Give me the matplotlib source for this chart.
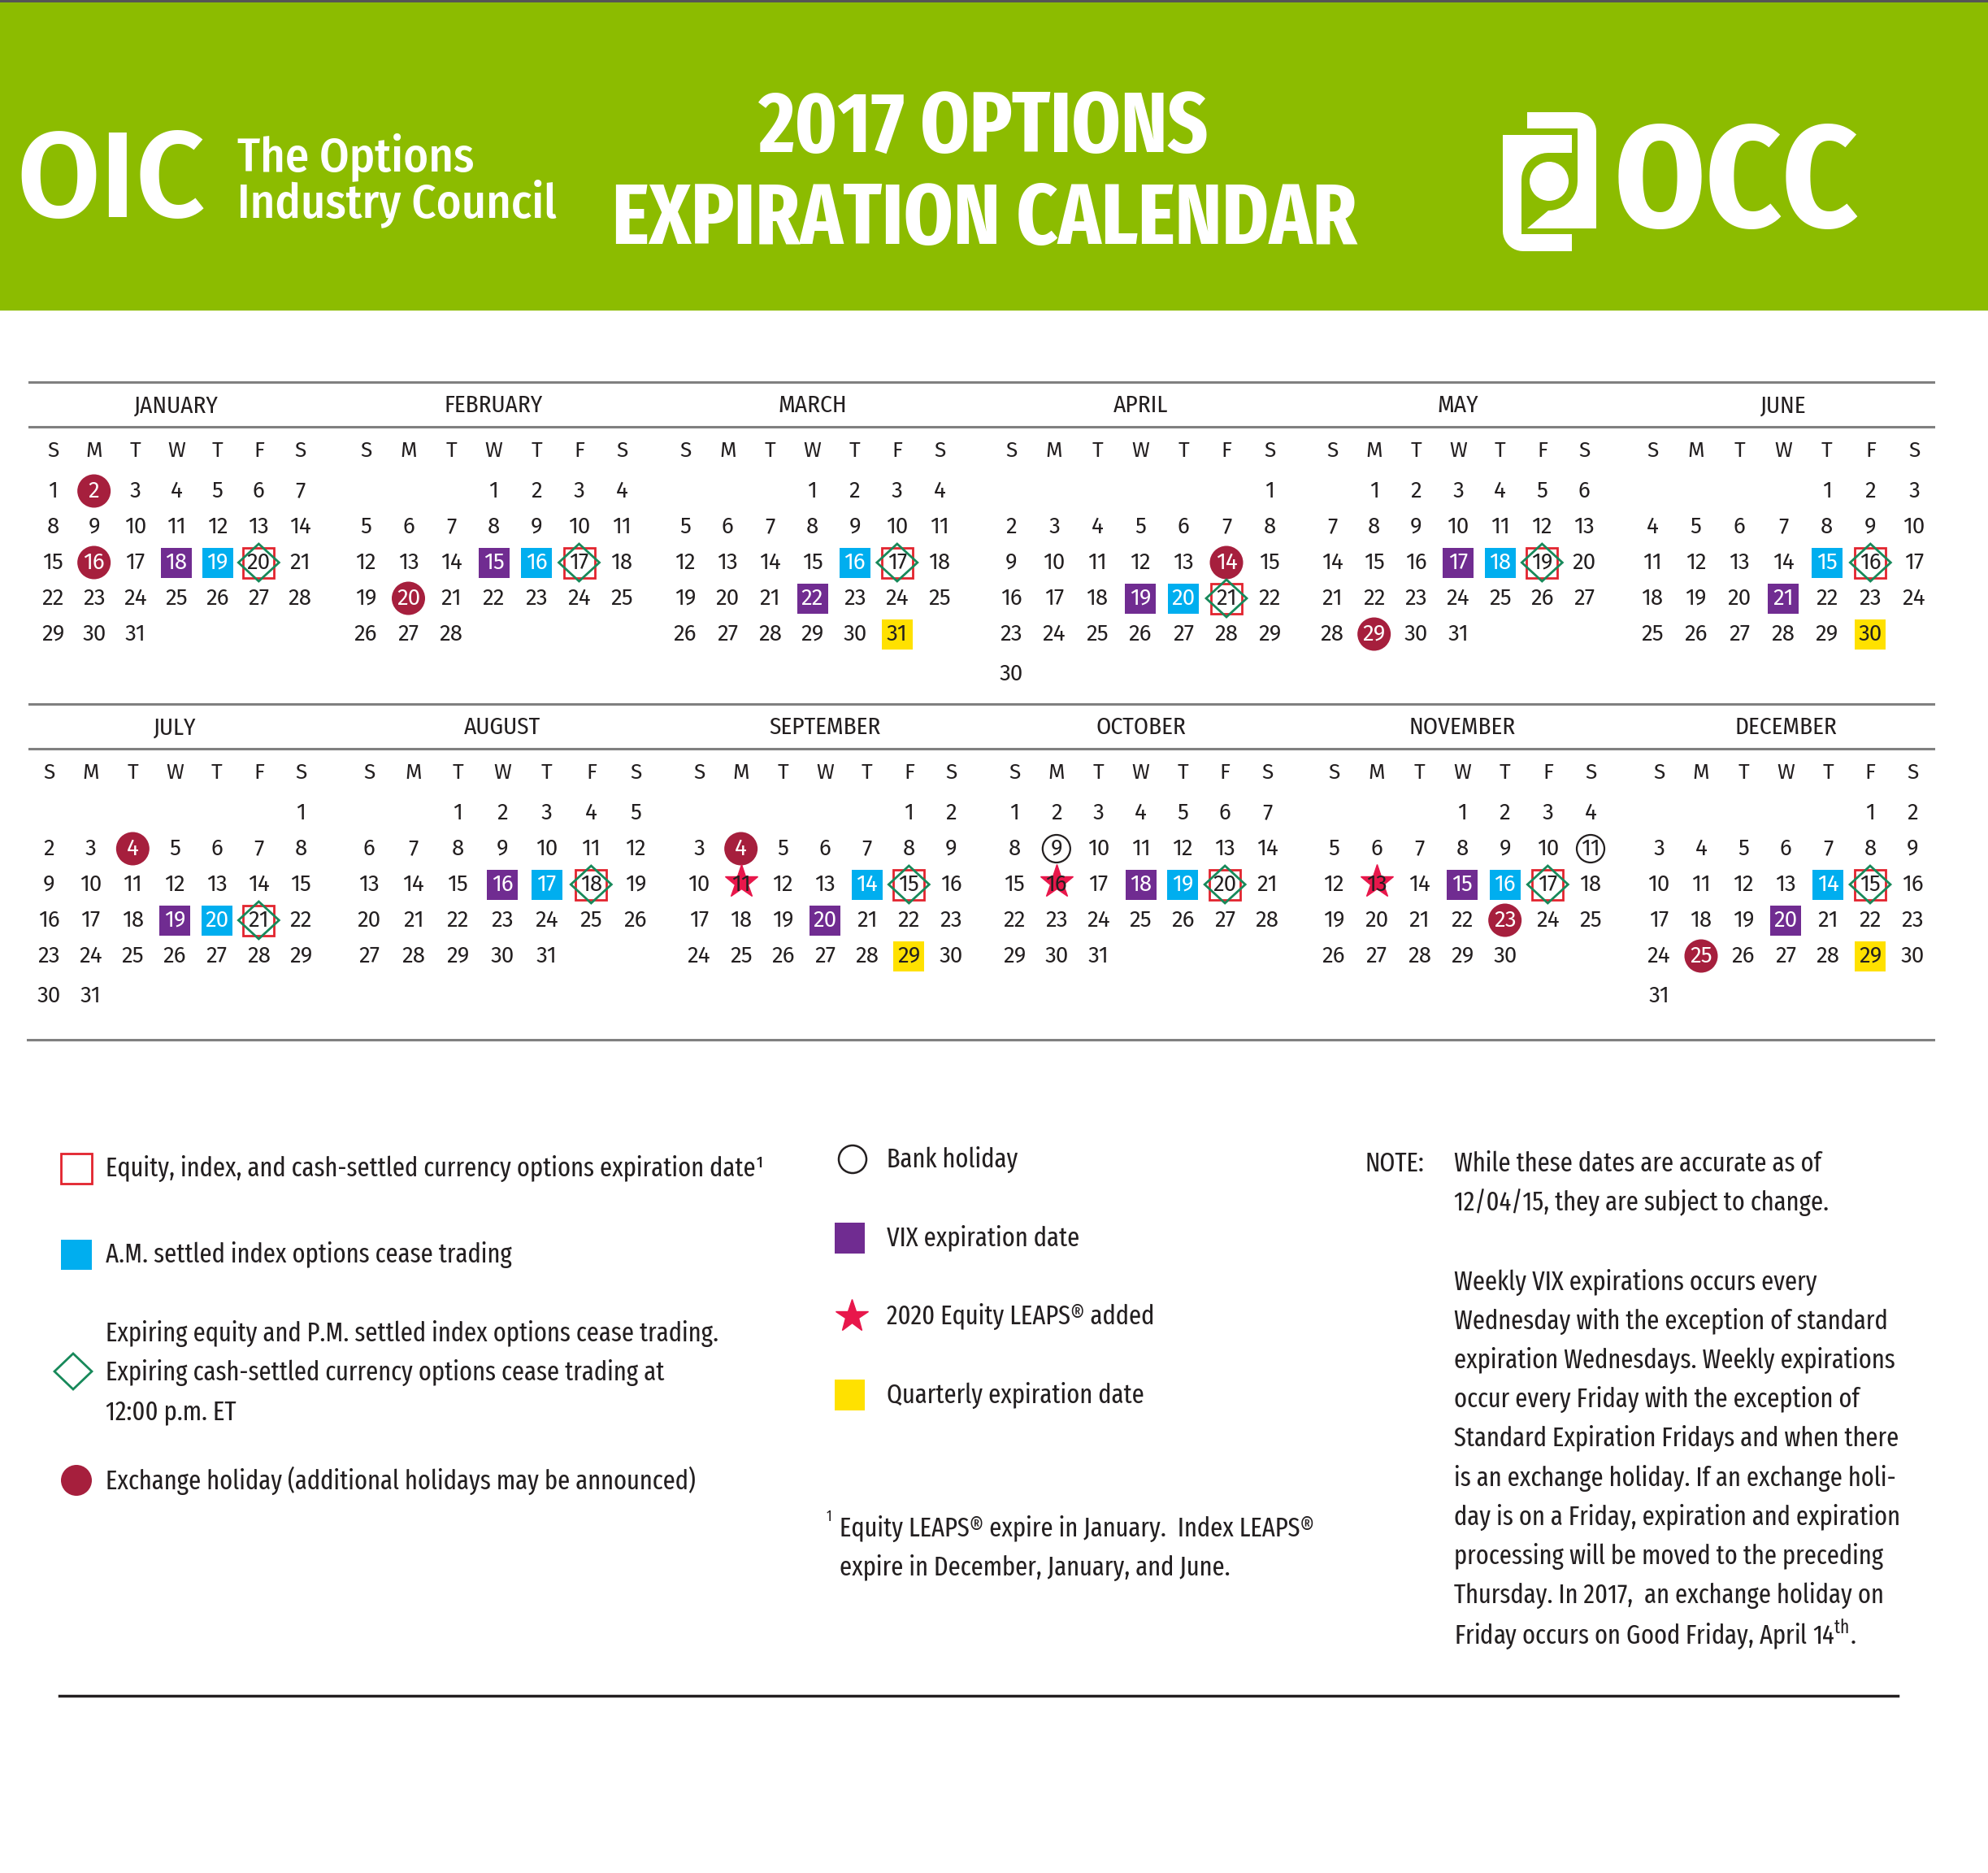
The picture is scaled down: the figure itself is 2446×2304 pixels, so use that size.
"""
2017 options expiration calendar (OIC / OCC), redrawn with matplotlib.

    python plot.py   -> out.png
"""
import calendar

import matplotlib
matplotlib.use("Agg")
import matplotlib.pyplot as plt  # noqa: E402
import numpy as np  # noqa: E402
from matplotlib.patches import Circle, Polygon, Rectangle  # noqa: E402

XCOND = ["Fira Sans Extra Condensed", "Liberation Sans Narrow", "DejaVu Sans"]
COND = ["Fira Sans Condensed", "Fira Sans Extra Condensed", "DejaVu Sans"]
REGULAR = ["Fira Sans", "Liberation Sans", "DejaVu Sans"]
plt.rcParams["font.family"] = XCOND
plt.rcParams["mathtext.fontset"] = "custom"
plt.rcParams["mathtext.rm"] = "Fira Sans Extra Condensed"

# ---- data ---------------------------------------------------------------
YEAR = 2017
MONTHS = ["JANUARY", "FEBRUARY", "MARCH", "APRIL", "MAY", "JUNE",
          "JULY", "AUGUST", "SEPTEMBER", "OCTOBER", "NOVEMBER", "DECEMBER"]
WEEKDAYS = ["S", "M", "T", "W", "T", "F", "S"]
EXCH_HOLIDAYS = [(1, 2), (1, 16), (2, 20), (4, 14), (5, 29), (7, 4), (9, 4), (11, 23), (12, 25)]
BANK_HOLIDAYS = [(10, 9), (11, 11)]
VIX_DAY = [18, 15, 22, 19, 17, 21, 19, 16, 20, 18, 15, 20]
AM_SETTLED_DAY = [19, 16, 16, 20, 18, 15, 20, 17, 14, 19, 16, 14]
EXPIRATION_DAY = [20, 17, 17, 21, 19, 16, 21, 18, 15, 20, 17, 15]
QUARTERLY = [(3, 31), (6, 30), (9, 29), (12, 29)]
LEAPS_ADDED = [(9, 11), (10, 16), (11, 13)]

LEGEND_LEFT = ["Equity, index, and cash-settled currency options expiration date\u00b9",
               "A.M. settled index options cease trading",
               ["Expiring equity and P.M. settled index options cease trading.",
                "Expiring cash-settled currency options cease trading at",
                "12:00 p.m. ET"],
               "Exchange holiday (additional holidays may be announced)"]
LEGEND_MID = ["Bank holiday", "VIX expiration date",
              "2020 Equity LEAPS\u00ae added", "Quarterly expiration date"]
FOOTNOTE = ["Equity LEAPS\u00ae expire in January.  Index LEAPS\u00ae",
            "expire in December, January, and June."]
NOTE = ["While these dates are accurate as of",
        "12/04/15, they are subject to change.",
        "Weekly VIX expirations occurs every",
        "Wednesday with the exception of standard",
        "expiration Wednesdays. Weekly expirations",
        "occur every Friday with the exception of",
        "Standard Expiration Fridays and when there",
        "is an exchange holiday. If an exchange holi-",
        "day is on a Friday, expiration and expiration",
        "processing will be moved to the preceding",
        "Thursday. In 2017,  an exchange holiday on",
        r"Friday occurs on Good Friday, April 14$^{\rm th}$."]

# ---- style / layout (pixels, y down) -----------------------------------
GREEN, PURPLE, BLUE = "#8CBC00", "#702C91", "#00AEEF"
CRIMSON, RED, DGREEN = "#A61F3D", "#E2242E", "#17895A"
YELLOW, STAR, INK, GRAY = "#FFE100", "#E8174B", "#231F20", "#808080"

W, H = 2446, 2304
MONTH_X0 = [65, 450, 843, 1244, 1639, 2033, 60, 454, 860, 1248, 1641, 2041]
MONTH_X1 = [369, 765, 1156, 1562, 1949, 2355, 370, 782, 1170, 1559, 1957, 2353]
BAND_TOP = [470, 866]
ROW_OFF = [49, 93, 137, 181, 225, 274]
SQ_W, SQ_H = 38, 37


def square(ax, x, y, color, fill=True, size=(SQ_W, SQ_H), z=2):
    w, h = size
    if fill:
        ax.add_patch(Rectangle((x - w / 2, y - h / 2), w, h, color=color, lw=0, zorder=z))
    else:
        ax.add_patch(Rectangle((x - w / 2, y - h / 2), w, h, fill=False, ec=color, lw=2, zorder=z))


def diamond(ax, x, y, hw=25, hh=23):
    ax.add_patch(Polygon([(x, y - hh), (x + hw, y), (x, y + hh), (x - hw, y)], closed=True,
                         fill=False, ec=DGREEN, lw=2, zorder=4))


def star(ax, x, y, ms=31):
    ax.plot([x], [y], marker="*", ms=ms, color=STAR, mec=STAR, zorder=2)


def arc(cx, cy, r, a0, a1, n=12):
    t = np.radians(np.linspace(a0, a1, n))
    return list(zip(cx + r * np.cos(t), cy + r * np.sin(t)))


def fit_size(t, target_px):
    # font size that gives the text its width in the reference
    w = t.get_window_extent(renderer=fig.canvas.get_renderer()).width
    return t.get_fontsize() * target_px / w


fig = plt.figure(figsize=(W / 100, H / 100), dpi=100)
ax = fig.add_axes([0, 0, 1, 1])
ax.set_xlim(0, W)
ax.set_ylim(H, 0)
ax.axis("off")

# header band
ax.add_patch(Rectangle((0, 0), W, 382, color=GREEN, lw=0))
ax.add_patch(Rectangle((0, 0), W, 3, color="#555555", lw=0))
t = ax.text(20, 267, "OIC", color="white", fontsize=100, family=REGULAR, weight="semibold",
            va="baseline")
t.set_fontsize(fit_size(t, 232))
t1 = ax.text(292, 210, "The Options", color="white", fontsize=40, family=COND, weight="medium",
             va="baseline")
t2 = ax.text(292, 267, "Industry Council", color="white", fontsize=40, family=COND, weight="medium",
             va="baseline")
s = fit_size(t2, 393)
t1.set_fontsize(s)
t2.set_fontsize(s)
t = ax.text(1211, 187, "2017 OPTIONS", color="white", fontsize=66, weight="bold", ha="center", va="baseline")
t.set_fontsize(fit_size(t, 554))
t = ax.text(1211, 300, "EXPIRATION CALENDAR", color="white", fontsize=68, weight="bold",
            ha="center", va="baseline")
t.set_fontsize(fit_size(t, 917))
left_piece = ([(1849, 166), (1934, 166), (1934, 188)] + arc(1905, 221, 33, -90, -180)
              + [(1872, 288), (1934, 288), (1934, 309)] + arc(1874, 284, 25, 90, 180))
right_piece = ([(1879, 138)] + arc(1940, 162, 24, -90, 0) + [(1964, 281), (1879, 281)]
               + arc(1905, 223, 36, 90, 0) + [(1941, 158), (1879, 158)])
ax.add_patch(Polygon(left_piece, closed=True, color="white", lw=0))
ax.add_patch(Polygon(right_piece, closed=True, color="white", lw=0))
ax.add_patch(Circle((1906, 223), 24, color="white", lw=0))
t = ax.text(2136, 279, "OCC", color="white", fontsize=124, family=COND, weight="bold",
            ha="center", va="baseline")
t.set_fontsize(fit_size(t, 301))

# marks per (month, day)
marks = {}
for m in range(1, 13):
    marks[(m, VIX_DAY[m - 1])] = "vix"
    marks[(m, AM_SETTLED_DAY[m - 1])] = "am"
    marks[(m, EXPIRATION_DAY[m - 1])] = "exp"
for md in EXCH_HOLIDAYS:
    marks[md] = "holiday"
for md in BANK_HOLIDAYS:
    marks[md] = "bank"
for md in QUARTERLY:
    marks[md] = "quarter"
for md in LEAPS_ADDED:
    marks[md] = "leaps"

# calendar grid
cal = calendar.Calendar(firstweekday=6)
for band in range(2):
    top = BAND_TOP[band]
    ax.plot([36, 2379], [top, top], color=GRAY, lw=2.2)
    ax.plot([36, 2379], [top + 55, top + 55], color=GRAY, lw=2.2)
    for k in range(6):
        mi = band * 6 + k
        x0, x1 = MONTH_X0[mi], MONTH_X1[mi]
        xs = np.linspace(x0, x1, 7)
        ax.text((x0 + x1) / 2, top + 29, MONTHS[mi], fontsize=21, family=COND, color=INK,
                ha="center", va="center")
        for xi, wd in zip(xs, WEEKDAYS):
            ax.text(xi, top + 85, wd, fontsize=19, family=REGULAR, color=INK, ha="center", va="center")
        for r, week in enumerate(cal.monthdayscalendar(YEAR, mi + 1)):
            y = top + 85 + ROW_OFF[r]
            for xi, d in zip(xs, week):
                if d == 0:
                    continue
                kind = marks.get((mi + 1, d))
                color = INK
                if kind == "vix":
                    square(ax, xi, y, PURPLE)
                    color = "white"
                elif kind == "am":
                    square(ax, xi, y, BLUE)
                    color = "white"
                elif kind == "quarter":
                    square(ax, xi, y, YELLOW)
                elif kind == "exp":
                    square(ax, xi, y, RED, fill=False, z=3)
                    diamond(ax, xi, y)
                elif kind == "holiday":
                    ax.add_patch(Circle((xi, y), 20.5, color=CRIMSON, lw=0, zorder=2))
                    color = "white"
                elif kind == "bank":
                    ax.add_patch(Circle((xi, y), 17, fill=False, ec=INK, lw=1.6, zorder=2))
                elif kind == "leaps":
                    star(ax, xi, y - 3)
                ax.text(xi, y, str(d), fontsize=20, family=REGULAR, color=color,
                        ha="center", va="center", zorder=5)
ax.plot([34, 2379], [1279, 1279], color=GRAY, lw=2.2)

# legend text size: fitted to two reference lines
probe = ax.text(0, -500, LEGEND_LEFT[0], fontsize=25)
probe2 = ax.text(0, -500, NOTE[6], fontsize=25)
LS = (fit_size(probe, 797) + fit_size(probe2, 554)) / 2
probe.remove()
probe2.remove()

# legend, left column
square(ax, 94, 1437, RED, fill=False)
ax.text(130, 1437, LEGEND_LEFT[0], fontsize=LS, color=INK, va="center")
square(ax, 94, 1543, BLUE)
ax.text(130, 1543, LEGEND_LEFT[1], fontsize=LS, color=INK, va="center")
diamond(ax, 90, 1687, hw=23, hh=22)
for yy, line in zip([1640, 1688, 1737], LEGEND_LEFT[2]):
    ax.text(130, yy, line, fontsize=LS, color=INK, va="center")
ax.add_patch(Circle((94, 1821), 19, color=CRIMSON, lw=0))
ax.text(130, 1821, LEGEND_LEFT[3], fontsize=LS, color=INK, va="center")

# legend, middle column
ax.add_patch(Circle((1049, 1426), 17, fill=False, ec=INK, lw=1.8))
square(ax, 1045, 1523, PURPLE, size=(37, 38))
star(ax, 1048, 1619, ms=30)
square(ax, 1045, 1716, YELLOW, size=(37, 38))
for yy, line in zip([1426, 1523, 1619, 1716], LEGEND_MID):
    ax.text(1091, yy, line, fontsize=LS, color=INK, va="center")
ax.text(1017, 1866, "1", fontsize=LS * 0.55, color=INK, va="center")
for yy, line in zip([1880, 1928], FOOTNOTE):
    ax.text(1033, yy, line, fontsize=LS, color=INK, va="center")

# note
ax.text(1680, 1432, "NOTE:", fontsize=LS, color=INK, va="center")
note_y = [1432, 1480] + list(1577 + 48.2 * np.arange(10))
for yy, line in zip(note_y, NOTE):
    ax.text(1789, yy, line, fontsize=LS, color=INK, va="center")

ax.plot([73, 2335], [2086, 2086], color=INK, lw=2.5)

fig.savefig("out.png", dpi=100)
